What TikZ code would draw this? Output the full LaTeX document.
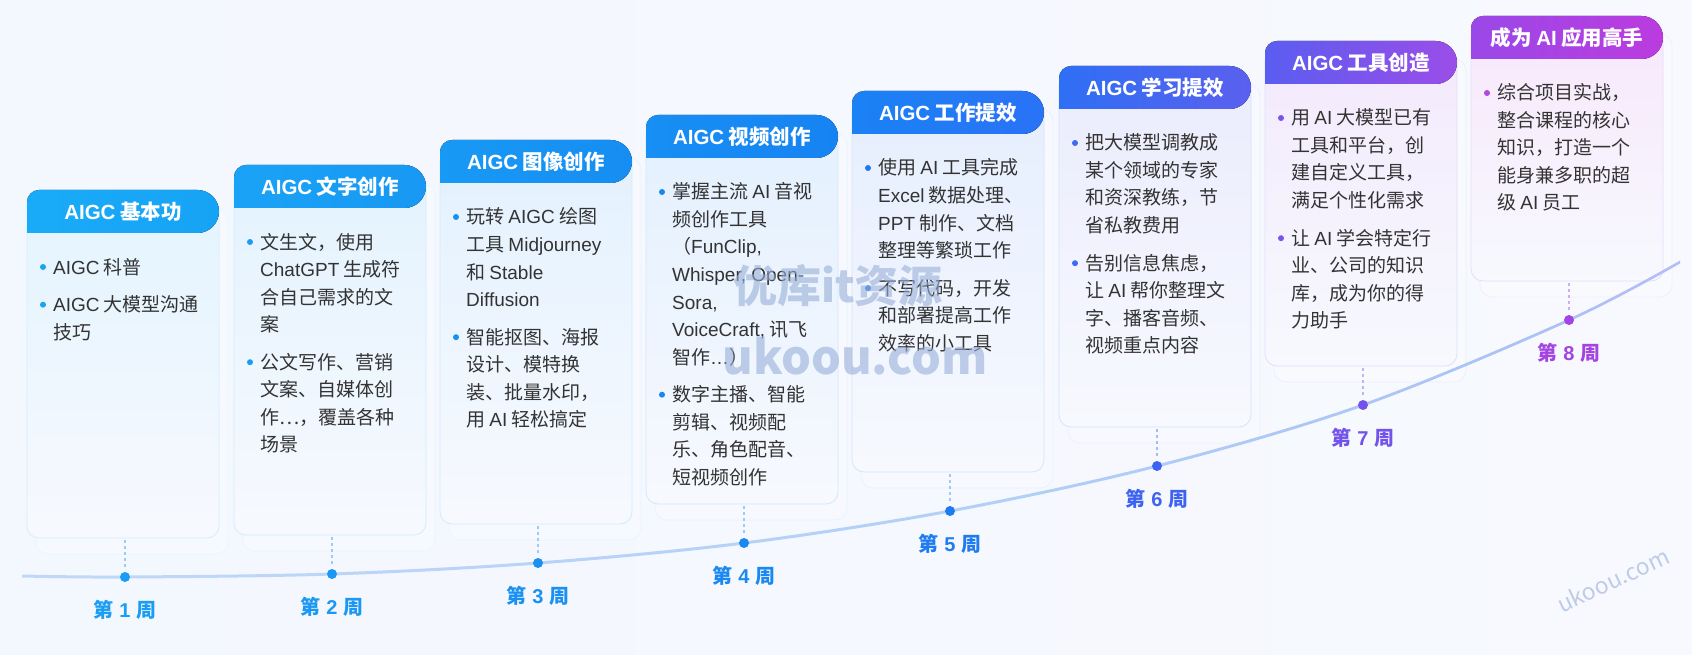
\documentclass[tikz,border=0pt]{standalone}
\usepackage{fontspec}
\setmainfont{Noto Sans CJK SC}
\newfontfamily\latf{Liberation Sans}
\newcommand\lat[1]{{\latf #1}}
\definecolor{bgA}{HTML}{F3F7FE}
\definecolor{bgB}{HTML}{F7F9FE}
\definecolor{bodygray}{HTML}{333333}
\definecolor{h1a}{HTML}{19ABF8}\definecolor{h1b}{HTML}{17A3F5}
\definecolor{h2a}{HTML}{1AA3F6}\definecolor{h2b}{HTML}{1898F3}
\definecolor{h3a}{HTML}{1899F5}\definecolor{h3b}{HTML}{168DF2}
\definecolor{h4a}{HTML}{178FF4}\definecolor{h4b}{HTML}{1683F3}
\definecolor{h5a}{HTML}{1A82F5}\definecolor{h5b}{HTML}{2A72F6}
\definecolor{h6a}{HTML}{2E6FF5}\definecolor{h6b}{HTML}{5B60EE}
\definecolor{h7a}{HTML}{5A5DF0}\definecolor{h7b}{HTML}{9B4DE8}
\definecolor{h8a}{HTML}{9B48E8}\definecolor{h8b}{HTML}{BB3BDF}
\definecolor{b1}{HTML}{1AA3F2}\definecolor{b2}{HTML}{1A9CF2}
\definecolor{b3}{HTML}{1990F0}\definecolor{b4}{HTML}{1A86F0}
\definecolor{b5}{HTML}{1F78F0}\definecolor{b6}{HTML}{4068F2}
\definecolor{b7}{HTML}{7A55EC}\definecolor{b8}{HTML}{B048E0}
\definecolor{k1}{HTML}{1A9DF2}\definecolor{k2}{HTML}{1A98F2}
\definecolor{k3}{HTML}{1A91F0}\definecolor{k4}{HTML}{1A88F0}
\definecolor{k5}{HTML}{1E7BF0}\definecolor{k6}{HTML}{3E63F0}
\definecolor{k7}{HTML}{7452EC}\definecolor{k8}{HTML}{A444E2}
\definecolor{l1}{HTML}{9CCBF6}\definecolor{l6}{HTML}{A9B9F5}
\definecolor{l7}{HTML}{C4B2F3}\definecolor{l8}{HTML}{CFAEF0}
\definecolor{wm}{HTML}{98AFD8}
\definecolor{cs0}{HTML}{E0ECFA}
\definecolor{cs1}{HTML}{C2DAF8}
\definecolor{cs2}{HTML}{B2CFF7}
\definecolor{cs3}{HTML}{ABC3F6}
\definecolor{cs4}{HTML}{BBB9F5}
\definecolor{cs5}{HTML}{CAB3F3}
\definecolor{cs6}{HTML}{D3BCF2}
\pgfdeclarehorizontalshading{curveshade}{100bp}{%
  color(0bp)=(cs0); color(20bp)=(cs1); color(55bp)=(cs2); color(69bp)=(cs3);
  color(81bp)=(cs4); color(93bp)=(cs5); color(100bp)=(cs6)}
\tikzset{
  hdrtxt/.style={text=white, font=\fontsize{20.5}{24}\selectfont\bfseries, inner sep=0pt, anchor=base},
  bodytxt/.style={text=bodygray, font=\fontsize{19}{27.5}\selectfont, inner sep=0pt, anchor=base west},
  wklabel/.style={font=\fontsize{20}{22}\selectfont\bfseries, inner sep=0pt, anchor=base},
  wkdot/.style={circle, inner sep=0pt, minimum size=10pt},
  dotline/.style={line width=2.5pt, dash pattern=on 3pt off 3pt},
  backcard/.style={fill=white, fill opacity=0.25, draw=#1!10!white, line width=0.8pt},
  wmtxt/.style={text=wm, text opacity=0.6, inner sep=0pt},
}
\newcommand\card[7]{%
  \draw[backcard=#5] ({#2+9},{#3+18}) [rounded corners=12pt] rectangle ({#2+201},{#4+16});
  \draw[draw=#5!20!white, line width=0.8pt, top color=#6!12!white, bottom color=bgB]
    ({#2},{#3+8}) [rounded corners=12pt] rectangle ({#2+192},{#4});
  \fill[left color=#5, right color=#6] ({#2},{#3+43}) -- ({#2},{#3+12})
    arc[start angle=180, end angle=270, radius=12] -- ({#2+170.5},{#3})
    arc[start angle=270, end angle=450, radius=21.5] -- cycle;
  \node[hdrtxt] (#1) at ({#2+96},{#3+30}) {#7};
}
\newcommand\para[5]{%
  \fill[#4] ({#2-10},{#3-7}) circle[radius=3];
  \foreach \lineT [count=\k] in {#5} {
    \node[bodytxt] (#1-\k) at ({#2},{#3+(\k-1)*27.5}) {\lineT};
  }
}
\newcommand\week[5]{%
  \node[wkdot, fill=#4] (d#1) at (#2,#3) {};
  \coordinate (t#1) at (#2,{#3-37});
  \draw[dotline, #5] (t#1) -- ([yshift=4pt]d#1.north);
  \node[wklabel, text=#4] (w#1) at (#2,{#3+40}) {第\hspace{6pt}\lat{#1}\hspace{6pt}周};
}
\begin{document}
\begin{tikzpicture}[x=1pt, y=-1pt]
\useasboundingbox (0,0) rectangle (1692,655);
\fill[left color=bgA, right color=bgB] (0,0) rectangle (1692,655);

% cards
\card{c1}{27}{190}{538}{h1a}{h1b}{\lat{AIGC} 基本功}
\card{c2}{234}{165}{535}{h2a}{h2b}{\lat{AIGC} 文字创作}
\card{c3}{440}{140}{524}{h3a}{h3b}{\lat{AIGC} 图像创作}
\card{c4}{646}{115}{504}{h4a}{h4b}{\lat{AIGC} 视频创作}
\card{c5}{852}{91}{472}{h5a}{h5b}{\lat{AIGC} 工作提效}
\card{c6}{1059}{66}{427}{h6a}{h6b}{\lat{AIGC} 学习提效}
\card{c7}{1265}{41}{366}{h7a}{h7b}{\lat{AIGC} 工具创造}
\card{c8}{1471}{16}{281}{h8a}{h8b}{成为 \lat{AI} 应用高手}

% card texts
\para{p1a}{53}{274}{b1}{\lat{AIGC} 科普}
\para{p1b}{53}{311.7}{b1}{\lat{AIGC} 大模型沟通, 技巧}
\para{p2a}{260}{249}{b2}{文生文，使用, \lat{ChatGPT} 生成符, 合自己需求的文, 案}
\para{p2b}{260}{369.2}{b2}{公文写作、营销, 文案、自媒体创, 作…，覆盖各种, 场景}
\para{p3a}{466}{224}{b3}{玩转 \lat{AIGC} 绘图, 工具 \lat{Midjourney}, 和 \lat{Stable}, \lat{Diffusion}}
\para{p3b}{466}{344.2}{b3}{智能抠图、海报, 设计、模特换, 装、批量水印，, 用 \lat{AI} 轻松搞定}
\para{p4a}{672}{199}{b4}{掌握主流 \lat{AI} 音视, 频创作工具, {（\lat{FunClip,}}, {\lat{Whisper, Open-}}, {\lat{Sora,}}, {\lat{VoiceCraft,} 讯飞}, 智作\lat{\textellipsis}）}
\para{p4b}{672}{401.7}{b4}{数字主播、智能, 剪辑、视频配, 乐、角色配音、, 短视频创作}
\para{p5a}{878}{175}{b5}{使用 \lat{AI} 工具完成, \lat{Excel} 数据处理、, \lat{PPT} 制作、文档, 整理等繁琐工作}
\para{p5b}{878}{295.2}{b5}{不写代码，开发, 和部署提高工作, 效率的小工具}
\para{p6a}{1085}{150}{b6}{把大模型调教成, 某个领域的专家, 和资深教练，节, 省私教费用}
\para{p6b}{1085}{270.2}{b6}{告别信息焦虑，, 让 \lat{AI} 帮你整理文, 字、播客音频、, 视频重点内容}
\para{p7a}{1291}{125}{b7}{用 \lat{AI} 大模型已有, 工具和平台，创, 建自定义工具，, 满足个性化需求}
\para{p7b}{1291}{245.2}{b7}{让 \lat{AI} 学会特定行, 业、公司的知识, 库，成为你的得, 力助手}
\para{p8a}{1497}{100}{b8}{综合项目实战，, 整合课程的核心, 知识，打造一个, 能身兼多职的超, 级 \lat{AI} 员工}

% timeline curve (thin shaded band)
\shade[shading=curveshade] plot[smooth, tension=0.55] coordinates
  {(22,574.5) (125,575.5) (332,572.5) (538,561.5) (744,541.5) (950,509.5) (1157,464.5) (1363,403.5) (1569,318.5) (1680,260.5)}
  -- plot[smooth, tension=0.55] coordinates
  {(1680,263.5) (1569,321.5) (1363,406.5) (1157,467.5) (950,512.5) (744,544.5) (538,564.5) (332,575.5) (125,578.5) (22,577.5)}
  -- cycle;

% weeks
\week{1}{125}{577}{k1}{l1}
\week{2}{332}{574}{k2}{l1}
\week{3}{538}{563}{k3}{l1}
\week{4}{744}{543}{k4}{l1}
\week{5}{950}{511}{k5}{l1}
\week{6}{1157}{466}{k6}{l6}
\week{7}{1363}{405}{k7}{l7}
\week{8}{1569}{320}{k8}{l8}

% watermarks
\node[wmtxt, font=\fontsize{44}{50}\selectfont\bfseries] (wm1) at (838,286) {优库it资源};
\node[wmtxt, font=\fontsize{47}{52}\selectfont\bfseries] (wm2) at (855,356) {ukoou.com};
\node[wmtxt, font=\fontsize{23}{26}\selectfont, rotate=25] (wm3) at (1613,580) {ukoou.com};
\end{tikzpicture}
\end{document}
